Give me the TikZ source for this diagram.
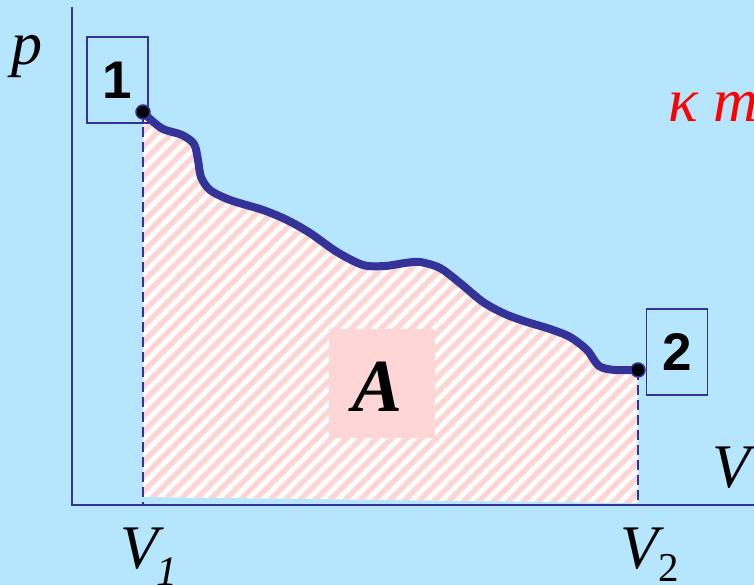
\documentclass[tikz,border=0pt]{standalone}
\usepackage{fontspec}
\setmainfont{Liberation Serif}
\newfontfamily\numfont{Liberation Sans}
\definecolor{bg}{RGB}{181,230,253}
\definecolor{dblue}{RGB}{51,51,153}
\definecolor{pinkh}{RGB}{255,214,214}
\begin{document}
\begin{tikzpicture}[x=1pt,y=-1pt,
  axis/.style={draw=dblue,line width=2.7pt},
  ptbox/.style={draw=dblue,line width=1.7pt,minimum width=61pt,minimum height=86pt,inner sep=0pt,
    font=\numfont\bfseries\fontsize{53}{53}\selectfont},
  dot/.style={circle,fill=black,draw=dblue,line width=1.5pt,minimum size=14pt,inner sep=0pt},
  drop/.style={draw=dblue,line width=2pt,dash pattern=on 10pt off 5pt},
  lbl/.style={inner sep=0pt,font=\fontsize{62}{62}\selectfont\itshape},
  curve/.style={draw=dblue,line width=8pt,line cap=round,line join=round}]
\useasboundingbox (0,0) rectangle (754,585);
\clip (0,0) rectangle (754,585);
\fill[bg] (0,0) rectangle (754,585);
% hatched area
\begin{scope}
  \clip plot[smooth,tension=0.5] coordinates {(143,112) (150,119) (163,129) (182,135) (194,144) (198,160) (201,177) (210,190) (230,200) (263,210) (287,220) (310,233) (337,252) (363,265) (385,266) (405,263) (420,262) (440,268) (460,283) (483,302) (505,314) (527,322) (550,329) (570,337) (587,350) (599,366) (615,370) (638,370)} -- (638,503) -- (143,497) -- cycle;
  \fill[white] (100,80) rectangle (700,520);
  \foreach \c in {230,245,...,1180} \draw[pinkh,line width=5.5pt] (\c,0) -- (\c-700,700);
\end{scope}
% A box
\node[fill=pinkh,minimum width=106pt,minimum height=109pt,inner sep=0pt] (abox) at (382,383.5) {};
\node[inner sep=0pt,font=\fontsize{75}{75}\selectfont\bfseries\itshape,anchor=base] (alabel) at (378,411) {A};
% axes
\coordinate (ytop) at (72,7);
\coordinate (O) at (72,505);
\coordinate (xend) at (754,505);
\coordinate (p1) at (143,112);
\coordinate (p2) at (638,370);
\coordinate (v1foot) at (143,505);
\coordinate (v2foot) at (638,505);
\draw[drop] (p1) -- (v1foot);
\draw[drop] (p2) -- (v2foot);
\draw[axis] (ytop) -- (O) -- (xend);
% curve
\draw[curve] plot[smooth,tension=0.5] coordinates {(143,112) (150,119) (163,129) (182,135) (194,144) (198,160) (201,177) (210,190) (230,200) (263,210) (287,220) (310,233) (337,252) (363,265) (385,266) (405,263) (420,262) (440,268) (460,283) (483,302) (505,314) (527,322) (550,329) (570,337) (587,350) (599,366) (615,370) (638,370)};
% boxes
\node[ptbox] (b1) at (117.5,80) {1};
\node[ptbox] (b2) at (677,352) {2};
\node[dot] (d1) at (p1) {};
\node[dot] (d2) at (p2) {};
% labels
\node[lbl,anchor=base west] (plbl) at (11,65) {p};
\node[lbl,anchor=base west] (vlbl) at (712,487) {V};
\node[lbl,anchor=base west] (v1lbl) at (120,568) {V\kern-2pt\raisebox{-17pt}{\fontsize{42}{42}\selectfont 1}};
\node[lbl,anchor=base west] (v2lbl) at (620,568) {V\raisebox{-13pt}{\fontsize{41}{41}\selectfont\upshape 2}};
\node[lbl,anchor=base west,text=red] (kt) at (668,122) {κ m};
\end{tikzpicture}
\end{document}
